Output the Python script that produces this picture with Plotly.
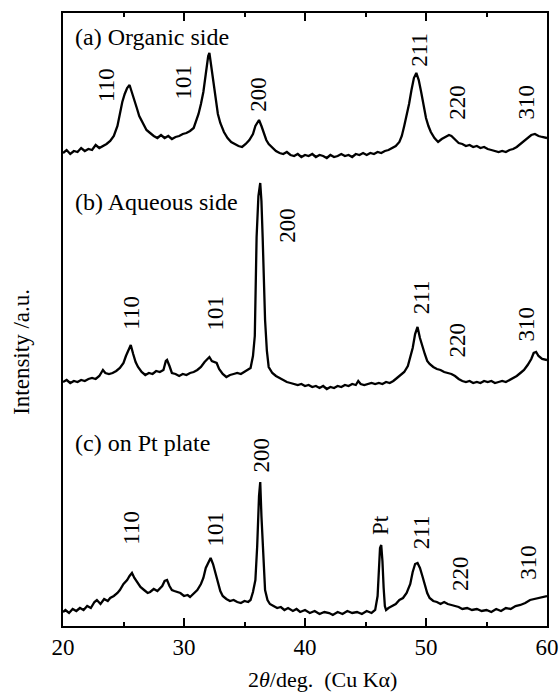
import plotly.graph_objects as go

# ---------------- data (2theta in deg, intensity in arbitrary units) ----------------
tth_a = [20.0, 20.3, 20.6, 20.9, 21.2, 21.5, 21.8, 22.1, 22.4, 22.7, 23.0, 23.3, 23.6, 23.9, 24.2, 24.5,
         24.7, 24.9, 25.1, 25.3, 25.5, 25.7, 25.9, 26.1, 26.3, 26.6, 26.9, 27.2, 27.5, 27.8, 28.1, 28.4,
         28.7, 29.0, 29.3, 29.6, 29.9, 30.2, 30.5, 30.8, 31.0, 31.2, 31.4, 31.6, 31.8, 32.0, 32.1, 32.2,
         32.4, 32.6, 32.8, 33.0, 33.3, 33.6, 33.9, 34.2, 34.5, 34.8, 35.1, 35.4, 35.7, 35.9, 36.1, 36.2,
         36.4, 36.6, 36.8, 37.0, 37.3, 37.6, 37.9, 38.2, 38.5, 38.8, 39.1, 39.4, 39.7, 40.0, 40.3, 40.6,
         40.9, 41.2, 41.5, 41.8, 42.1, 42.4, 42.7, 43.0, 43.3, 43.6, 43.9, 44.2, 44.5, 44.8, 45.1, 45.4,
         45.7, 46.0, 46.3, 46.6, 46.9, 47.2, 47.5, 47.8, 48.0, 48.2, 48.4, 48.6, 48.8, 49.0, 49.2, 49.4,
         49.6, 49.8, 50.0, 50.2, 50.4, 50.7, 51.0, 51.3, 51.6, 51.9, 52.1, 52.4, 52.7, 53.0, 53.3, 53.6,
         53.9, 54.2, 54.5, 54.8, 55.1, 55.4, 55.7, 56.0, 56.3, 56.6, 56.9, 57.2, 57.5, 57.8, 58.1, 58.4,
         58.7, 59.0, 59.3, 59.6, 60.0]
int_a = [13, 16, 12, 15, 14, 18, 15, 17, 16, 21, 18, 20, 22, 25, 30, 40,
         52, 64, 72, 78, 81, 74, 66, 58, 50, 43, 36, 33, 30, 28, 31, 28,
         30, 27, 29, 30, 32, 33, 35, 38, 44, 52, 62, 74, 92, 110, 113, 104,
         84, 66, 52, 43, 34, 28, 24, 22, 20, 19, 22, 26, 32, 40, 45, 46,
         40, 32, 26, 22, 18, 15, 13, 12, 14, 11, 10, 12, 9, 11, 10, 12,
         9, 11, 10, 8, 11, 9, 10, 12, 10, 11, 9, 12, 11, 13, 11, 13,
         12, 14, 13, 15, 16, 18, 20, 24, 30, 40, 50, 62, 76, 88, 93, 86,
         74, 60, 48, 40, 34, 28, 24, 27, 29, 31, 30, 26, 23, 22, 20, 21,
         19, 20, 18, 19, 17, 16, 15, 14, 15, 14, 16, 17, 19, 22, 25, 28,
         31, 32, 30, 29, 28]

tth_b = [20.0, 20.3, 20.6, 20.9, 21.2, 21.5, 21.8, 22.1, 22.4, 22.7, 23.0, 23.3, 23.5, 23.8, 24.1, 24.4,
         24.7, 25.0, 25.2, 25.4, 25.6, 25.8, 26.0, 26.2, 26.5, 26.8, 27.1, 27.4, 27.7, 28.0, 28.3, 28.5,
         28.6, 28.8, 29.0, 29.3, 29.6, 29.9, 30.2, 30.5, 30.8, 31.1, 31.4, 31.7, 31.9, 32.1, 32.3, 32.5,
         32.7, 32.9, 33.2, 33.5, 33.8, 34.1, 34.4, 34.7, 35.0, 35.3, 35.5, 35.7, 35.85, 36.0, 36.15, 36.3,
         36.4, 36.5, 36.6, 36.7, 36.85, 37.0, 37.3, 37.6, 37.9, 38.2, 38.5, 38.8, 39.1, 39.4, 39.7, 40.0,
         40.3, 40.6, 40.9, 41.2, 41.5, 41.8, 42.1, 42.4, 42.7, 43.0, 43.3, 43.6, 43.9, 44.2, 44.4, 44.6,
         44.9, 45.2, 45.5, 45.8, 46.1, 46.4, 46.7, 47.0, 47.3, 47.6, 47.9, 48.2, 48.5, 48.7, 48.9, 49.1,
         49.3, 49.5, 49.7, 49.9, 50.1, 50.3, 50.6, 50.9, 51.2, 51.5, 51.8, 52.1, 52.4, 52.7, 53.0, 53.3,
         53.6, 53.9, 54.2, 54.5, 54.8, 55.1, 55.4, 55.7, 56.0, 56.3, 56.6, 56.9, 57.2, 57.5, 57.8, 58.1,
         58.4, 58.7, 58.9, 59.1, 59.3, 59.6, 60.0]
int_b = [14, 16, 13, 15, 14, 16, 15, 17, 18, 17, 20, 26, 23, 22, 23, 25,
         28, 33, 40, 46, 51, 42, 34, 29, 24, 21, 23, 22, 25, 24, 26, 35,
         36, 30, 23, 22, 20, 22, 21, 23, 24, 26, 29, 34, 37, 39, 35, 34,
         33, 27, 22, 19, 21, 22, 23, 22, 24, 26, 28, 40, 60, 159, 200, 213,
         195, 159, 110, 76, 45, 29, 23, 20, 18, 16, 14, 13, 12, 11, 12, 10,
         11, 9, 10, 8, 10, 7, 9, 8, 10, 9, 11, 10, 12, 11, 15, 12,
         11, 12, 13, 12, 13, 12, 14, 13, 15, 18, 21, 24, 30, 38, 48, 62,
         69, 58, 49, 42, 35, 32, 29, 27, 26, 24, 23, 22, 20, 17, 15, 14,
         15, 13, 14, 13, 15, 14, 15, 13, 14, 15, 14, 16, 18, 20, 23, 26,
         31, 37, 43, 44, 40, 37, 36]

tth_c = [20.0, 20.2, 20.5, 20.8, 21.1, 21.4, 21.7, 22.0, 22.3, 22.6, 22.8, 23.1, 23.4, 23.7, 23.9, 24.2,
         24.5, 24.7, 25.0, 25.3, 25.5, 25.7, 25.9, 26.1, 26.4, 26.7, 27.0, 27.2, 27.5, 27.8, 28.0, 28.2,
         28.4, 28.6, 28.8, 29.0, 29.2, 29.4, 29.7, 30.0, 30.3, 30.5, 30.8, 31.1, 31.4, 31.6, 31.8, 32.0,
         32.2, 32.4, 32.6, 32.8, 33.0, 33.2, 33.5, 33.8, 34.1, 34.4, 34.7, 35.0, 35.3, 35.5, 35.7, 35.9,
         36.05, 36.2, 36.3, 36.4, 36.55, 36.7, 36.9, 37.1, 37.4, 37.7, 38.0, 38.3, 38.6, 39.0, 39.3, 39.6,
         40.0, 40.4, 40.8, 41.2, 41.6, 42.0, 42.3, 42.7, 43.1, 43.5, 43.9, 44.3, 44.7, 45.1, 45.5, 45.8,
         46.0, 46.1, 46.2, 46.3, 46.4, 46.5, 46.6, 46.7, 46.9, 47.2, 47.5, 47.8, 48.1, 48.4, 48.7, 48.9,
         49.1, 49.3, 49.5, 49.7, 49.9, 50.1, 50.3, 50.6, 50.9, 51.2, 51.5, 51.8, 52.1, 52.4, 52.7, 53.0,
         53.4, 53.8, 54.2, 54.6, 55.0, 55.4, 55.8, 56.2, 56.6, 57.0, 57.4, 57.8, 58.2, 58.6, 59.0, 59.4,
         59.7, 60.0]
int_c = [14, 16, 13, 17, 15, 18, 16, 20, 18, 24, 26, 22, 27, 25, 28, 30,
         33, 36, 42, 46, 50, 53, 48, 44, 39, 36, 33, 34, 37, 35, 38, 40,
         45, 46, 40, 36, 35, 34, 33, 30, 31, 29, 33, 36, 42, 48, 58, 64,
         68, 62, 52, 42, 35, 30, 27, 25, 26, 24, 23, 25, 24, 26, 34, 46,
         80, 130, 144, 110, 70, 36, 26, 22, 20, 18, 19, 16, 18, 15, 17, 14,
         16, 13, 15, 12, 14, 13, 11, 14, 12, 15, 13, 14, 12, 15, 13, 16,
         30, 60, 78, 81, 65, 38, 20, 16, 18, 20, 22, 26, 28, 33, 42, 54,
         62, 63, 58, 50, 40, 33, 28, 25, 24, 22, 24, 22, 21, 20, 19, 17,
         18, 16, 17, 15, 16, 14, 17, 15, 18, 17, 20, 21, 23, 26, 27, 28,
         29, 30]

offsets = {"a": 460, "b": 230, "c": 0}

panel_titles = ["(a) Organic side", "(b) Aqueous side", "(c) on Pt plate"]

# peak labels: (text, 2theta position, label height)
labels_a = [("110", 23.55, 541), ("101", 29.95, 544), ("200", 36.1, 532),
            ("211", 49.4, 576), ("220", 52.55, 524), ("310", 58.3, 524)]
labels_b = [("110", 25.6, 313), ("101", 32.6, 313), ("200", 38.5, 401),
            ("211", 49.6, 329), ("220", 52.6, 286), ("310", 58.3, 302)]
labels_c = [("110", 25.6, 98), ("101", 32.6, 97), ("200", 36.4, 171), ("Pt", 46.2, 101),
            ("211", 49.6, 94), ("220", 52.8, 53), ("310", 58.4, 64)]

# ---------------- figure ----------------
FONT = "Liberation Serif, Times New Roman, serif"
fig = go.Figure()
for tth, inten, key in [(tth_a, int_a, "a"), (tth_b, int_b, "b"), (tth_c, int_c, "c")]:
    fig.add_trace(go.Scatter(x=tth, y=[v + offsets[key] for v in inten], mode="lines",
                             line=dict(color="black", width=2.3), showlegend=False,
                             hoverinfo="skip"))

ann = []
title_y = [589, 424, 183]
for t, yv in zip(panel_titles, title_y):
    ann.append(dict(x=20.8, y=yv, xref="x", yref="y", text=t, showarrow=False,
                    xanchor="left", yanchor="middle", font=dict(family=FONT, size=24, color="black")))
for lab in (labels_a, labels_b, labels_c):
    for txt, xx, yy in lab:
        ann.append(dict(x=xx, y=yy, xref="x", yref="y", text=txt, showarrow=False,
                        textangle=-90, xanchor="center", yanchor="middle",
                        font=dict(family=FONT, size=23, color="black")))

ann.append(dict(x=0.537, y=-0.088, xref="paper", yref="paper",
                text="2<i>θ</i>/deg.  (Cu Kα)", showarrow=False, xanchor="center", yanchor="middle",
                font=dict(family=FONT, size=22, color="black")))
ann.append(dict(x=-0.085, y=0.447, xref="paper", yref="paper", text="Intensity /a.u.",
                showarrow=False, textangle=-90, xanchor="center", yanchor="middle",
                font=dict(family=FONT, size=23, color="black")))

fig.update_layout(
    width=559, height=694,
    margin=dict(l=63, r=12, t=13, b=68),
    paper_bgcolor="white", plot_bgcolor="white",
    annotations=ann,
    xaxis=dict(range=[20, 60], tickmode="array", tickvals=[20, 30, 40, 50, 60],
               ticks="inside", ticklen=8, tickwidth=1.5, tickcolor="black",
               minor=dict(tickvals=[25, 35, 45, 55], ticks="inside", ticklen=4, tickwidth=1.5, tickcolor="black"),
               showline=True, linecolor="black", linewidth=1.5, mirror="ticks",
               showgrid=False, zeroline=False, automargin=False,
               tickfont=dict(family=FONT, size=23, color="black")),
    yaxis=dict(range=[0, 613], showticklabels=False, ticks="", showline=True, automargin=False,
               linecolor="black", linewidth=1.5, mirror=True, showgrid=False, zeroline=False),
)

fig.write_html("out.html", config={"displayModeBar": False},
               post_script="document.body.style.margin='0';document.body.style.padding='0';")
